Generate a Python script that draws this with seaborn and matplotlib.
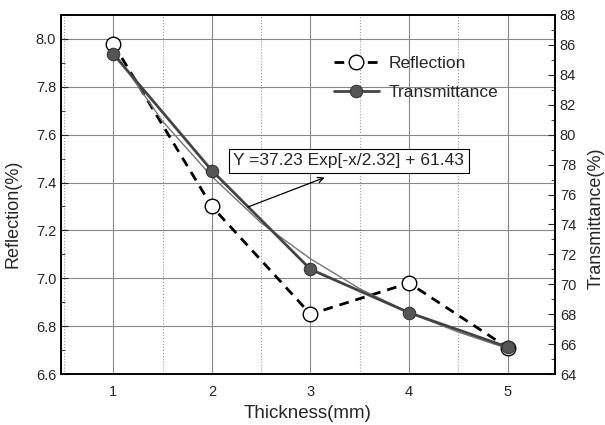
import matplotlib
matplotlib.use("Agg")
import matplotlib.pyplot as plt
import seaborn as sns
import pandas as pd
from matplotlib.ticker import MultipleLocator

thickness = [1, 2, 3, 4, 5]
reflection = [7.98, 7.30, 6.85, 6.98, 6.71]
transmittance = [85.4, 77.6, 71.0, 68.1, 65.8]
fit_x = [1, 1.5, 2, 2.5, 3, 3.5, 4, 4.5, 5]
fit_y = [85.6, 80.9, 77.2, 74.1, 71.7, 69.7, 68.1, 66.8, 65.7]
fit_label = "Y =37.23 Exp[-x/2.32] + 61.43"

sns.set_style("white")
plt.rcParams['font.family'] = ['Liberation Sans', 'DejaVu Sans']

df_r = pd.DataFrame({"x": thickness, "y": reflection})
df_t = pd.DataFrame({"x": thickness, "y": transmittance})
df_f = pd.DataFrame({"x": fit_x, "y": fit_y})

fig = plt.figure(figsize=(6.05, 4.25), dpi=100)
ax = fig.add_axes([61/605, 1-374/425, (555-61)/605, (374-15)/425])
ax2 = ax.twinx()

ax.set_xlim(0.47, 5.48)
ax.set_ylim(6.6, 8.1)
ax2.set_ylim(64, 88)

# grid
ax.xaxis.set_major_locator(MultipleLocator(1))
ax.xaxis.set_minor_locator(MultipleLocator(0.5))
ax.yaxis.set_major_locator(MultipleLocator(0.2))
ax.yaxis.set_minor_locator(MultipleLocator(0.1))
ax2.yaxis.set_major_locator(MultipleLocator(2))
ax2.yaxis.set_minor_locator(MultipleLocator(1))
ax.grid(True, which='major', color='#888888', lw=0.8, ls='-')
ax.grid(True, which='minor', axis='x', color='#999999', lw=0.8, ls=':')
ax.set_axisbelow(True)

sns.lineplot(data=df_r, x="x", y="y", ax=ax, color='black', lw=2.0,
             linestyle=(0, (3.5, 2.5)), marker='o', markersize=10.5,
             markerfacecolor='white', markeredgecolor='black',
             markeredgewidth=1.0, label='Reflection', legend=False, zorder=3)
sns.lineplot(data=df_f, x="x", y="y", ax=ax2, color='#777777', lw=1.0,
             legend=False, zorder=2)
sns.lineplot(data=df_t, x="x", y="y", ax=ax2, color='#444444', lw=2.0,
             marker='o', markersize=9, markerfacecolor='#555555',
             markeredgecolor='#333333', label='Transmittance', legend=False,
             zorder=3)

for a in (ax, ax2):
    a.tick_params(which='both', direction='in', labelsize=10.5)
    a.tick_params(which='major', length=5)
    a.tick_params(which='minor', length=3)
    for s in a.spines.values():
        s.set_color('black')
        s.set_linewidth(1.2)
ax.tick_params(axis='x', pad=8)

ax.set_xlabel("Thickness(mm)", fontsize=13.5, labelpad=4)
ax.set_ylabel("Reflection(%)", fontsize=13)
ax.yaxis.set_label_coords(-0.079, 0.446)
ax2.set_ylabel("Transmittance(%)", fontsize=13)
ax2.yaxis.set_label_coords(1.066, 0.435)

h1, l1 = ax.get_legend_handles_labels()
h2, l2 = ax2.get_legend_handles_labels()
ax2.legend(h1 + h2, l1 + l2, loc='upper left', bbox_to_anchor=(0.52, 0.93),
           frameon=False, fontsize=12.5, handlelength=2.6, labelspacing=0.8,
           handletextpad=0.6)

ax2.annotate("", xy=(3.17, 77.2), xytext=(2.34, 75.1),
             arrowprops=dict(arrowstyle='->', color='black', lw=0.9))
ax2.text(3.39, 78.25, fit_label, ha='center', va='center', fontsize=12.5,
         bbox=dict(boxstyle='square,pad=0.25', fc='white', ec='black', lw=0.8))

fig.savefig("out.png", dpi=100)
